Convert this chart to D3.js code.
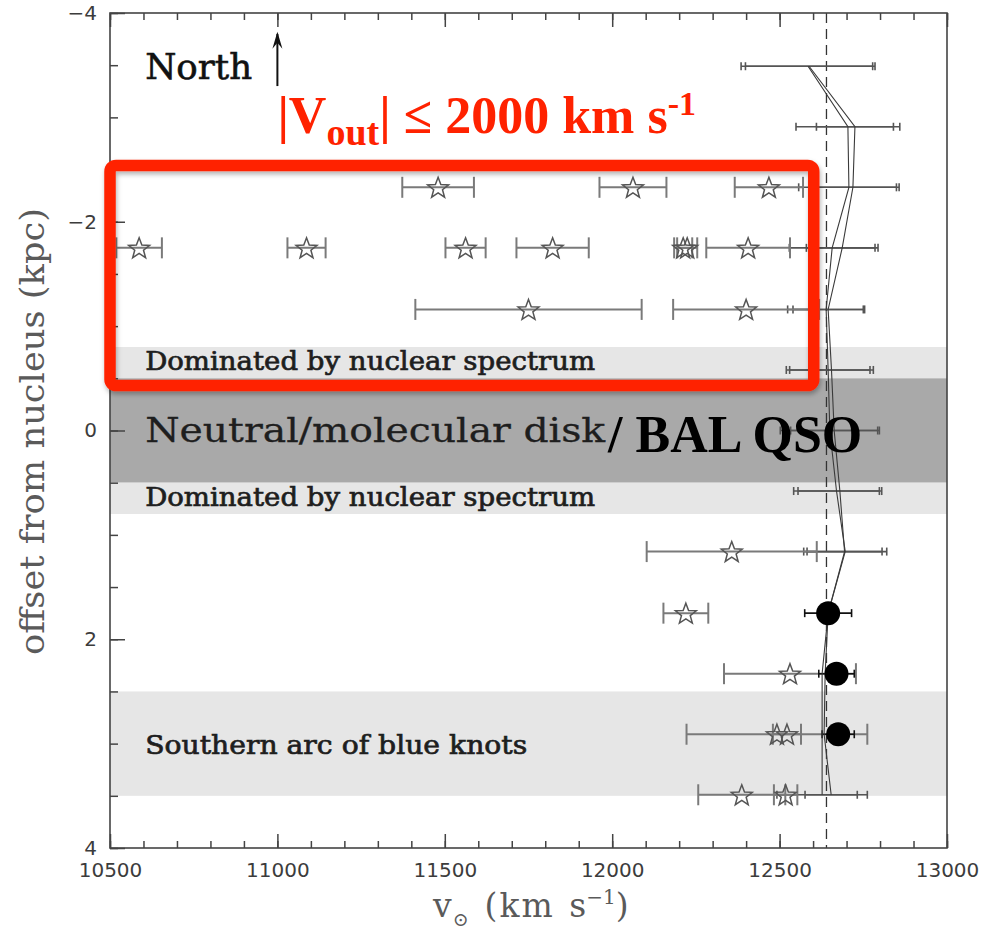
<!DOCTYPE html>
<html>
<head>
<meta charset="utf-8">
<script src="https://cdn.jsdelivr.net/npm/d3@7"></script>
<style>
  body { margin: 0; background: #fff; }
  svg { display: block; }
</style>
</head>
<body>
<svg id="chart" width="996" height="931"></svg>
<script>
// ---- Data -------------------------------------------------------------
// Slit positions along the major axis (kpc, negative = north)
const rowOffsets = [-3.49, -2.91, -2.33, -1.75, -1.16, -0.58, 0, 0.58, 1.16, 1.75, 2.33, 2.91, 3.49];

// Two emission-line velocity curves of the main component (km/s) with errors
const curve1Vel = [12585, 12704, 12707, 12657, 12639, 12645, 12650, 12670, 12696, 12645, 12627, 12627, 12627];
const curve1Err = [200, 155, 150, 128, 115, 125, 148, 128, 124, 0, 0, 0, 135];
const curve2Vel = [12588, 12725, 12719, 12687, 12645, 12655, 12663, 12680, 12694, 12645, 12636, 12633, 12654];
const curve2Err = [190, 115, 130, 107, 105, 125, 130, 125, 112, 0, 0, 0, 78];

// Outflowing (blueshifted) components shown as open stars
const starOffset = [-2.33, -2.33, -2.33, -1.75, -1.75, -1.75, -1.75, -1.75, -1.75, -1.75, -1.16, -1.16, 1.16, 1.75, 2.33, 2.91, 2.91, 3.49, 3.49];
const starVel    = [11480, 12062, 12468, 10587, 11087, 11562, 11822, 12212, 12224, 12406, 11750, 12400, 12357, 12220, 12531, 12492, 12522, 12387, 12518];
const starErr    = [107, 100, 102, 68, 57, 60, 108, 27, 30, 125, 338, 218, 254, 67, 197, 270, 42, 130, 35];

// Southern knots (filled circles)
const dotOffset = [1.75, 2.33, 2.91];
const dotVel    = [12645, 12670, 12675];
const dotErr    = [70, 53, 48];

// Systemic velocity (dashed line)
const systemicVel = 12640;

// Shaded regions along the slit
const bandLo    = [-0.8, -0.5, 0.5, 2.5];
const bandHi    = [-0.5, 0.5, 0.8, 3.5];
const bandShade = ["light", "dark", "light", "light"];

// Region labels: text and baseline offset
const regionText   = ["Dominated by nuclear spectrum", "Neutral/molecular disk", "Dominated by nuclear spectrum", "Southern arc of blue knots"];
const regionOffset = [-0.58, 0.107, 0.72, 3.1];

// Axis ticks
const xMajorTicks = [10500, 11000, 11500, 12000, 12500, 13000];
const xMinorTicks = d3.range(10500, 13001, 100);
const yMajorTicks = [-4, -2, 0, 2, 4];
const yMinorTicks = d3.range(-4, 4.01, 0.5);

// ---- Scales -----------------------------------------------------------
const svg = d3.select("#chart");
const x = d3.scaleLinear().domain([10500, 13000]).range([110, 947]);
const y = d3.scaleLinear().domain([-4, 4]).range([13, 848]);

const shadeColor = { light: "#e6e6e6", dark: "#a9a9a9" };
const axisColor = "#444";

const defs = svg.append("defs");
const sh = defs.append("filter").attr("id", "boxShadow")
  .attr("x", "-5%").attr("y", "-5%").attr("width", "110%").attr("height", "115%");
sh.append("feDropShadow").attr("dx", 1).attr("dy", 3).attr("stdDeviation", 2.5)
  .attr("flood-color", "#000").attr("flood-opacity", 0.3);

// ---- Bands ------------------------------------------------------------
svg.append("g").selectAll("rect").data(bandLo).join("rect")
  .attr("x", x(10500))
  .attr("width", x(13000) - x(10500))
  .attr("y", d => y(d))
  .attr("height", (d, i) => y(bandHi[i]) - y(d))
  .attr("fill", (d, i) => shadeColor[bandShade[i]]);

// ---- Region labels ----------------------------------------------------
const regionSize  = [26, 34, 26, 26];
const regionWidth = [450, 460, 450, 382];
const regionStroke = [0.7, 0.3, 0.7, 0.7];
svg.append("g").selectAll("text").data(regionText).join("text")
  .attr("x", x(10605))
  .attr("y", (d, i) => y(regionOffset[i]))
  .attr("font-family", "DejaVu Serif")
  .attr("font-size", (d, i) => regionSize[i])
  .attr("textLength", (d, i) => regionWidth[i])
  .attr("lengthAdjust", "spacingAndGlyphs")
  .attr("fill", "#1e1e1e")
  .attr("stroke", "#1e1e1e")
  .attr("stroke-width", (d, i) => regionStroke[i])
  .text(d => d);

// ---- Systemic velocity ------------------------------------------------
svg.append("line")
  .attr("x1", x(systemicVel)).attr("x2", x(systemicVel))
  .attr("y1", y(-4)).attr("y2", y(4))
  .attr("stroke", "#333").attr("stroke-width", 1.3)
  .attr("stroke-dasharray", "10,6");

// ---- Error bar helper -------------------------------------------------
function errorBars(g, vel, err, off, color, width, cap) {
  const idx = vel.map((v, i) => i).filter(i => err[i] > 0);
  const gg = g.append("g").attr("stroke", color).attr("stroke-width", width).attr("fill", "none");
  gg.selectAll("line.bar").data(idx).join("line").attr("class", "bar")
    .attr("x1", i => x(vel[i] - err[i])).attr("x2", i => x(vel[i] + err[i]))
    .attr("y1", i => y(off[i])).attr("y2", i => y(off[i]));
  gg.selectAll("line.capL").data(idx).join("line").attr("class", "capL")
    .attr("x1", i => x(vel[i] - err[i])).attr("x2", i => x(vel[i] - err[i]))
    .attr("y1", i => y(off[i]) - cap).attr("y2", i => y(off[i]) + cap);
  gg.selectAll("line.capR").data(idx).join("line").attr("class", "capR")
    .attr("x1", i => x(vel[i] + err[i])).attr("x2", i => x(vel[i] + err[i]))
    .attr("y1", i => y(off[i]) - cap).attr("y2", i => y(off[i]) + cap);
}

const dataG = svg.append("g");

// main-component error bars
errorBars(dataG, curve1Vel, curve1Err, rowOffsets, "#555", 1.6, 4);
errorBars(dataG, curve2Vel, curve2Err, rowOffsets, "#555", 1.6, 4);

// star error bars
errorBars(dataG, starVel, starErr, starOffset, "#7a7a7a", 2, 10.5);

// dot error bars
errorBars(dataG, dotVel, dotErr, dotOffset, "#111", 1.6, 4);

// ---- Velocity curves --------------------------------------------------
const lineGen = d3.line().x(d => x(d[0])).y(d => y(d[1]));
[curve1Vel, curve2Vel].forEach(c => {
  dataG.append("path")
    .datum(c.map((v, i) => [v, rowOffsets[i]]))
    .attr("d", lineGen)
    .attr("fill", "none")
    .attr("stroke", "#3a3a3a")
    .attr("stroke-width", 1.1);
});

// ---- Stars ------------------------------------------------------------
function starPath(R) {
  const r = R * 0.42;
  const pts = d3.range(10).map(k => {
    const a = -Math.PI / 2 + k * Math.PI / 5;
    const rr = k % 2 === 0 ? R : r;
    return [rr * Math.cos(a), rr * Math.sin(a)];
  });
  return "M" + pts.map(p => p.join(",")).join("L") + "Z";
}
dataG.append("g").selectAll("path").data(starVel).join("path")
  .attr("d", starPath(11))
  .attr("transform", (d, i) => `translate(${x(d)},${y(starOffset[i]) + 1})`)
  .attr("fill", "none")
  .attr("stroke", "#555")
  .attr("stroke-width", 1.5)
  .attr("stroke-linejoin", "miter");

// ---- Dots -------------------------------------------------------------
dataG.append("g").selectAll("circle").data(dotVel).join("circle")
  .attr("cx", d => x(d))
  .attr("cy", (d, i) => y(dotOffset[i]))
  .attr("r", 12)
  .attr("fill", "#000");

// ---- Axes -------------------------------------------------------------
const tickFont = g => g.selectAll("text")
  .attr("font-family", "DejaVu Sans").attr("font-size", 20).attr("fill", "#3c3c3c");
const tickLine = g => { g.select(".domain").remove(); g.selectAll("line").attr("stroke", axisColor).attr("stroke-width", 1.5); };

svg.append("g").attr("transform", `translate(0,${y(4)})`)
  .call(d3.axisBottom(x).tickValues(xMinorTicks).tickSize(-7).tickFormat(""))
  .call(tickLine);
svg.append("g").attr("transform", `translate(0,${y(4)})`)
  .call(d3.axisBottom(x).tickValues(xMajorTicks).tickSize(-14).tickPadding(15).tickFormat(d3.format("d")))
  .call(tickLine).call(tickFont);
svg.append("g").attr("transform", `translate(0,${y(-4)})`)
  .call(d3.axisTop(x).tickValues(xMinorTicks).tickSize(-7).tickFormat(""))
  .call(tickLine);
svg.append("g").attr("transform", `translate(0,${y(-4)})`)
  .call(d3.axisTop(x).tickValues(xMajorTicks).tickSize(-14).tickFormat(""))
  .call(tickLine);
svg.append("g").attr("transform", `translate(${x(10500)},0)`)
  .call(d3.axisLeft(y).tickValues(yMinorTicks).tickSize(-8).tickFormat(""))
  .call(tickLine);
svg.append("g").attr("transform", `translate(${x(10500)},0)`)
  .call(d3.axisLeft(y).tickValues(yMajorTicks).tickSize(-15).tickPadding(13)
    .tickFormat(d => d < 0 ? "\u2212" + (-d) : String(d)))
  .call(tickLine).call(tickFont);

// frame
svg.append("rect")
  .attr("x", x(10500)).attr("y", y(-4))
  .attr("width", x(13000) - x(10500)).attr("height", y(4) - y(-4))
  .attr("fill", "none").attr("stroke", axisColor).attr("stroke-width", 1.6);

// axis titles
svg.append("text")
  .attr("transform", `translate(44,${(y(-4) + y(4)) / 2 + 1}) rotate(-90)`)
  .attr("text-anchor", "middle")
  .attr("font-family", "DejaVu Serif").attr("font-size", 34).attr("fill", "#5a5a5a")
  .attr("textLength", 447).attr("lengthAdjust", "spacingAndGlyphs")
  .text("offset from nucleus (kpc)");

const xt = svg.append("text")
  .attr("x", 433).attr("y", 917)
  .attr("font-family", "DejaVu Serif").attr("font-size", 33).attr("fill", "#5a5a5a");
xt.append("tspan").text("v");
xt.append("tspan").attr("font-size", 19).attr("dy", 9).attr("dx", 1).text("\u2299");
xt.append("tspan").attr("dy", -9).attr("dx", 16).attr("letter-spacing", 2).text("(km");
xt.append("tspan").attr("dx", 4).text(" s");
xt.append("tspan").attr("font-size", 20).attr("dy", -13).text("\u22121");
xt.append("tspan").attr("dy", 13).text(")");

// ---- North arrow ------------------------------------------------------
svg.append("text")
  .attr("x", x(10605)).attr("y", y(-3.37))
  .attr("font-family", "DejaVu Serif").attr("font-size", 36).attr("fill", "#111")
  .attr("stroke", "#111").attr("stroke-width", 0.6)
  .attr("textLength", 107).attr("lengthAdjust", "spacingAndGlyphs")
  .text("North");
svg.append("line")
  .attr("x1", x(11000)).attr("x2", x(11000))
  .attr("y1", y(-3.3)).attr("y2", y(-3.8))
  .attr("stroke", "#111").attr("stroke-width", 2);
svg.append("path")
  .attr("d", `M${x(11000)},${y(-3.81) - 1}L${x(11000) - 5},${y(-3.81) + 16}L${x(11000)},${y(-3.81) + 10}L${x(11000) + 5},${y(-3.81) + 16}Z`)
  .attr("fill", "#111");

// ---- Highlight box and annotations -----------------------------------
svg.append("rect")
  .attr("x", x(10500)).attr("y", y(-2.54))
  .attr("width", x(12602) - x(10500)).attr("height", y(-0.43) - y(-2.54))
  .attr("rx", 6).attr("ry", 6)
  .attr("fill", "none").attr("stroke", "#ff2200").attr("stroke-width", 11.5)
  .attr("filter", "url(#boxShadow)");

const red = svg.append("text")
  .attr("x", x(11000)).attr("y", 133)
  .attr("font-family", "Liberation Serif").attr("font-weight", "bold")
  .attr("font-size", 52).attr("fill", "#ff2200");
red.append("tspan").text("|V");
red.append("tspan").attr("font-size", 38).attr("dy", 12).text("out");
red.append("tspan").attr("dy", -12).text("| \u2264 2000 km s");
red.append("tspan").attr("font-size", 34).attr("dy", -18).text("-1");

svg.append("text")
  .attr("x", 608).attr("y", 452)
  .attr("font-family", "Liberation Serif").attr("font-weight", "bold")
  .attr("font-size", 52).attr("fill", "#000")
  .text("/ BAL QSO");
</script>
</body>
</html>
